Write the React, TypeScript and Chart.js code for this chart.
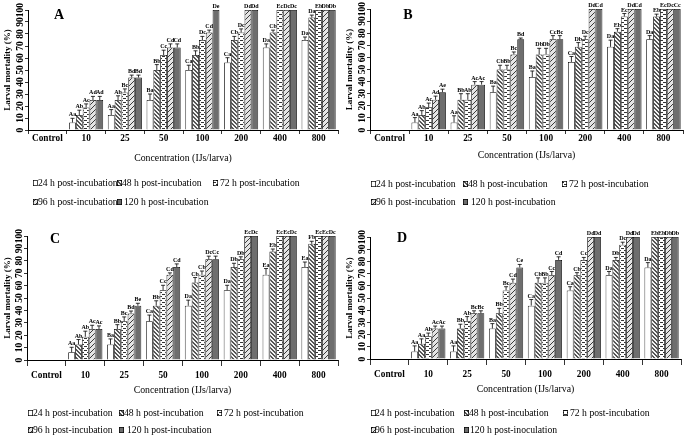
import React, { useEffect, useRef } from 'react';
import { Chart, registerables } from 'chart.js';

Chart.register(...registerables);

const FONT = '"Liberation Serif", "Times New Roman", serif';

const categories = ['Control', '10', '25', '50', '100', '200', '400', '800'];
const yTickLabels = [0, 10, 20, 30, 40, 50, 60, 70, 80, 90, 100];
const seriesLabels = ['24 h post-incubation', '48 h post-incubation', '72 h post-incubation', '96 h post-incubation', '120 h post-incubation'];
const seriesLabelsD = ['24 h post-incubation', '48 h post-incubation', '72 h post-incubation', '96 h post-incubation', '120 h post-inoculation'];

// rows: 24h, 48h, 72h, 96h, 120h ; columns: categories
const valuesA = [
  [0, 6.25, 12.5, 25, 50, 56.25, 68.75, 75],
  [0, 12.5, 25, 50, 62.5, 75, 81.25, 93.75],
  [0, 18.75, 31.25, 62.5, 75, 81.25, 100, 100],
  [0, 25, 43.75, 68.75, 81.25, 100, 100, 100],
  [0, 25, 43.75, 68.75, 100, 100, 100, 100],
];
const errorsA = [
  [0, 3.5, 4.5, 5, 4, 4, 3, 2.5],
  [0, 4, 3.5, 4.5, 3.5, 3, 2, 2],
  [0, 3, 3, 4, 3, 3, 0, 0],
  [0, 3, 2, 3, 2, 0, 0, 0],
  [0, 3, 2, 3, 0, 0, 0, 0],
];
const lettersA = [
  ['', 'Aa', 'Aa', 'Ba', 'Ca', 'Ca', 'Da', 'Da'],
  ['', 'Ab', 'Ab', 'Bb', 'Bb', 'Cb', 'Cb', 'Da'],
  ['', 'Ac', 'Bc', 'Cc', 'Dc', 'Dc', 'Ec', 'Eb'],
  ['', 'Ad', 'Bd', 'Cd', 'Cd', 'Dd', 'Dc', 'Db'],
  ['', 'Ad', 'Bd', 'Cd', 'De', 'Dd', 'Dc', 'Db'],
];

const valuesB = [
  [0, 6.25, 6.25, 31.25, 43.75, 56.25, 68.75, 75],
  [0, 12.5, 25, 50, 62.5, 68.75, 81.25, 93.75],
  [0, 18.75, 25, 50, 62.5, 75, 93.75, 100],
  [0, 25, 37.5, 62.5, 75, 100, 100, 100],
  [0, 31.25, 37.5, 75, 75, 100, 100, 100],
];
const errorsB = [
  [0, 4, 5.5, 5, 5, 4.5, 5.5, 3],
  [0, 3.5, 5, 3.5, 5, 3.5, 2.5, 2],
  [0, 3.5, 5, 3.5, 5, 2.5, 2.5, 0],
  [0, 3, 2.5, 2, 3, 0, 0, 0],
  [0, 2.5, 2.5, 1, 3, 0, 0, 0],
];
const lettersB = [
  ['', 'Aa', 'Aa', 'Ba', 'Ba', 'Ca', 'Da', 'Da'],
  ['', 'Ab', 'Bb', 'Cb', 'Db', 'Db', 'Eb', 'Eb'],
  ['', 'Ac', 'Ab', 'Bb', 'Db', 'Dc', 'Ec', 'Ec'],
  ['', 'Ad', 'Ac', 'Bc', 'Cc', 'Dd', 'Dd', 'Dc'],
  ['', 'Ae', 'Ac', 'Bd', 'Bc', 'Cd', 'Cd', 'Cc'],
];

const valuesC = [
  [0, 6.25, 12.5, 31.25, 43.75, 56.25, 68.75, 75],
  [0, 12.5, 25, 43.75, 62.5, 75, 87.5, 93.75],
  [0, 18.75, 31.25, 56.25, 68.75, 81.25, 100, 100],
  [0, 25, 37.5, 68.75, 81.25, 100, 100, 100],
  [0, 25, 43.75, 75, 81.25, 100, 100, 100],
];
const errorsC = [
  [0, 4, 4.5, 5, 4.5, 4, 5, 4],
  [0, 4, 3.5, 4, 4, 3, 2, 2],
  [0, 4.5, 3.5, 4, 3, 2, 0, 0],
  [0, 3, 2, 1.5, 2.5, 0, 0, 0],
  [0, 2.5, 2, 2.5, 2.5, 0, 0, 0],
];
const lettersC = [
  ['', 'Aa', 'Ba', 'Ca', 'Da', 'Da', 'Ea', 'Ea'],
  ['', 'Ab', 'Bb', 'Bb', 'Cb', 'Db', 'Eb', 'Fb'],
  ['', 'Ab', 'Bc', 'Cc', 'Cb', 'Db', 'Ec', 'Ec'],
  ['', 'Ac', 'Bd', 'Cd', 'Dc', 'Ec', 'Ec', 'Ec'],
  ['', 'Ac', 'Be', 'Cd', 'Cc', 'Dc', 'Dc', 'Dc'],
];

const valuesD = [
  [0, 6.25, 6.25, 25, 43.75, 56.25, 68.75, 75],
  [0, 12.5, 25, 37.5, 62.5, 68.75, 81.25, 100],
  [0, 18.75, 31.25, 56.25, 62.5, 81.25, 93.75, 100],
  [0, 25, 37.5, 62.5, 68.75, 100, 100, 100],
  [0, 25, 37.5, 75, 81.25, 100, 100, 100],
];
const errorsD = [
  [0, 4.5, 4.5, 4, 5, 3, 3, 4],
  [0, 4, 3.5, 4, 4, 2, 2, 0],
  [0, 2.5, 3.5, 3, 4, 2, 2, 0],
  [0, 2, 2, 3, 3, 0, 0, 0],
  [0, 2, 2, 2.5, 2.5, 0, 0, 0],
];
const lettersD = [
  ['', 'Aa', 'Aa', 'Ba', 'Ca', 'Ca', 'Da', 'Da'],
  ['', 'Aa', 'Bb', 'Bb', 'Cb', 'Cb', 'Db', 'Eb'],
  ['', 'Ab', 'Ab', 'Bc', 'Bb', 'Cc', 'Dc', 'Eb'],
  ['', 'Ac', 'Bc', 'Cd', 'Cc', 'Dd', 'Dd', 'Db'],
  ['', 'Ac', 'Bc', 'Ce', 'Cd', 'Dd', 'Dd', 'Db'],
];

type Geo = {
  key: string; x: number; y: number; w: number; h: number;
  pl: number; pt: number; pr: number; pb: number;
  tickLen: number; tickPad: number; titleY: number;
  letterX: number; letterY: number;
  legBox: number[]; legText: number[]; legRows: number[];
};

const panels = [
  { geo: { key: 'A', x: 0, y: 0, w: 342, h: 218, pl: 28, pt: 10, pr: 338, pb: 130, tickLen: 4, tickPad: -1, titleY: 158, letterX: 59, letterY: 15,
      legBox: [33, 117, 213, 33, 117], legText: [38, 122, 220, 38, 124], legRows: [183, 202] },
    values: valuesA, errors: errorsA, letters: lettersA, labels: seriesLabels },
  { geo: { key: 'B', x: 342, y: 0, w: 343, h: 218, pl: 28, pt: 9, pr: 341, pb: 130, tickLen: 4, tickPad: -1, titleY: 155, letterX: 66, letterY: 15,
      legBox: [29, 121, 220, 29, 121], legText: [34, 126, 227, 34, 129], legRows: [184, 202] },
    values: valuesB, errors: errorsB, letters: lettersB, labels: seriesLabels },
  { geo: { key: 'C', x: 0, y: 218, w: 342, h: 218, pl: 27, pt: 18, pr: 338, pb: 142, tickLen: 6, tickPad: 4, titleY: 172, letterX: 55, letterY: 21,
      legBox: [28, 119, 217, 28, 119], legText: [33, 124, 224, 33, 127], legRows: [195, 212] },
    values: valuesC, errors: errorsC, letters: lettersC, labels: seriesLabels },
  { geo: { key: 'D', x: 342, y: 218, w: 343, h: 218, pl: 28, pt: 19, pr: 339, pb: 141, tickLen: 6, tickPad: 4, titleY: 171, letterX: 60, letterY: 20,
      legBox: [29, 122, 221, 29, 122], legText: [33, 127, 228, 33, 128], legRows: [195, 212] },
    values: valuesD, errors: errorsD, letters: lettersD, labels: seriesLabelsD },
];

function makePatterns(): any[] {
  const mk = (w: number, h: number, draw: (g: CanvasRenderingContext2D) => void) => {
    const c = document.createElement('canvas');
    c.width = w; c.height = h;
    const g = c.getContext('2d') as CanvasRenderingContext2D;
    draw(g);
    return g.createPattern(c, 'repeat');
  };
  const p48 = mk(4, 4, (g) => {
    g.fillStyle = '#f4f4f4'; g.fillRect(0, 0, 4, 4);
    g.fillStyle = '#555555';
    for (let i = 0; i < 4; i++) { g.fillRect(i, i, 1, 1); g.fillRect((i + 1) % 4, i, 1, 1); }
  });
  const p72 = mk(6, 4, (g) => {
    g.fillStyle = '#ffffff'; g.fillRect(0, 0, 6, 4);
    g.fillStyle = '#333333';
    g.fillRect(0, 0, 3, 1); g.fillRect(3, 2, 3, 1);
  });
  const p96 = mk(5, 5, (g) => {
    g.fillStyle = '#e4e4e4'; g.fillRect(0, 0, 5, 5);
    g.fillStyle = '#3a3a3a';
    for (let i = 0; i < 5; i++) { g.fillRect(4 - i, i, 1, 1); }
  });
  return ['#ffffff', p48, p72, p96, '#6e6e6e'];
}

function ChartPanel({ panel }: { panel: any }) {
  const ref = useRef<HTMLCanvasElement | null>(null);
  useEffect(() => {
    const canvas = ref.current;
    if (!canvas) return;
    const g: Geo = panel.geo;
    const pats = makePatterns();
    const lineH = 9.8 * 1.2;
    const xScaleH = g.titleY + lineH / 2 - g.pb;

    const decor = {
      id: 'decor' + g.key,
      afterDatasetsDraw(chart: any) {
        const ctx = chart.ctx;
        const ys = chart.scales.y;
        ctx.save();
        ctx.strokeStyle = '#000';
        ctx.lineWidth = 0.8;
        ctx.fillStyle = '#000';
        ctx.font = 'bold 6px ' + FONT;
        ctx.textAlign = 'center';
        ctx.textBaseline = 'bottom';
        chart.data.datasets.forEach((ds: any, i: number) => {
          const meta = chart.getDatasetMeta(i);
          meta.data.forEach((bar: any, j: number) => {
            const v = ds.data[j];
            const e = panel.errors[i][j];
            const lab = panel.letters[i][j];
            const top = ys.getPixelForValue(v + e);
            if (e > 0) {
              ctx.beginPath();
              ctx.moveTo(bar.x, bar.y);
              ctx.lineTo(bar.x, top);
              ctx.moveTo(bar.x - 2, top);
              ctx.lineTo(bar.x + 2, top);
              ctx.stroke();
            }
            if (lab) ctx.fillText(lab, bar.x, top - 0.5);
          });
        });
        ctx.restore();
      },
      afterDraw(chart: any) {
        const ctx = chart.ctx;
        const ys = chart.scales.y;
        const area = chart.chartArea;
        ctx.save();
        ctx.fillStyle = '#000';
        ctx.font = 'bold 9.5px ' + FONT;
        ctx.textAlign = 'center';
        ctx.textBaseline = 'middle';
        yTickLabels.forEach((t) => {
          const py = ys.getPixelForValue(t);
          ctx.save();
          ctx.translate(area.left - 7, py);
          ctx.rotate(-Math.PI / 2);
          ctx.fillText(String(t), 0, 0);
          ctx.restore();
        });
        ctx.font = 'bold 14px ' + FONT;
        ctx.fillText(g.key, g.letterX, g.letterY);
        ctx.font = '9.7px ' + FONT;
        ctx.textAlign = 'left';
        panel.labels.forEach((lab: string, i: number) => {
          const row = i < 3 ? g.legRows[0] : g.legRows[1];
          const bx = g.legBox[i];
          ctx.fillStyle = pats[i];
          ctx.fillRect(bx, row - 3, 5, 6);
          ctx.strokeStyle = '#000';
          ctx.lineWidth = 0.7;
          ctx.strokeRect(bx + 0.35, row - 2.65, 4.3, 5.3);
          ctx.fillStyle = '#000';
          ctx.fillText(lab, g.legText[i], row + 0.5);
        });
        ctx.restore();
      },
    };

    const chart = new Chart(canvas, {
      type: 'bar',
      data: {
        labels: categories,
        datasets: panel.values.map((vals: number[], i: number) => ({
          label: panel.labels[i],
          data: vals,
          backgroundColor: pats[i],
          borderColor: '#000',
          borderWidth: 0.8,
          categoryPercentage: 0.88,
          barPercentage: 1.0,
        })),
      },
      options: {
        responsive: false,
        animation: false,
        devicePixelRatio: 1,
        layout: { padding: { left: 0, top: g.pt, right: g.w - g.pr, bottom: g.h - g.pb - xScaleH } },
        plugins: { legend: { display: false }, tooltip: { enabled: false }, title: { display: false } },
        scales: {
          x: {
            type: 'category',
            offset: true,
            grid: { display: true, drawOnChartArea: false, drawTicks: true, tickLength: g.tickLen, color: '#000', lineWidth: 0.8, offset: true },
            border: { display: true, color: '#000', width: 1 },
            ticks: { color: '#000', font: { family: FONT, size: 9.3, weight: 'bold' }, padding: g.tickPad, maxRotation: 0, minRotation: 0, autoSkip: false },
            title: { display: true, text: 'Concentration (IJs/larva)', color: '#000', font: { family: FONT, size: 9.8 }, padding: { top: 0, bottom: 0 } },
            afterFit: (s: any) => { s.height = xScaleH; },
          },
          y: {
            min: 0, max: 100,
            ticks: { stepSize: 10, display: false },
            grid: { display: true, drawOnChartArea: false, drawTicks: true, tickLength: 3, color: '#000', lineWidth: 0.8 },
            border: { display: true, color: '#000', width: 1 },
            title: { display: true, text: 'Larval mortality (%)', color: '#000', font: { family: FONT, size: 9, weight: 'bold' }, padding: { top: 2, bottom: 0 } },
            afterFit: (s: any) => { s.width = g.pl; },
          },
        },
      } as any,
      plugins: [decor],
    });
    return () => chart.destroy();
  }, [panel]);
  const g: Geo = panel.geo;
  return (
    <div style={{ position: 'absolute', left: g.x, top: g.y, width: g.w, height: g.h }}>
      <canvas ref={ref} width={g.w} height={g.h} style={{ width: g.w, height: g.h, display: 'block' }} />
    </div>
  );
}

export default function App() {
  return (
    <div style={{ position: 'fixed', left: 0, top: 0, width: 685, height: 436, background: '#fff', overflow: 'hidden' }}>
      {panels.map((p) => <ChartPanel key={p.geo.key} panel={p} />)}
    </div>
  );
}
